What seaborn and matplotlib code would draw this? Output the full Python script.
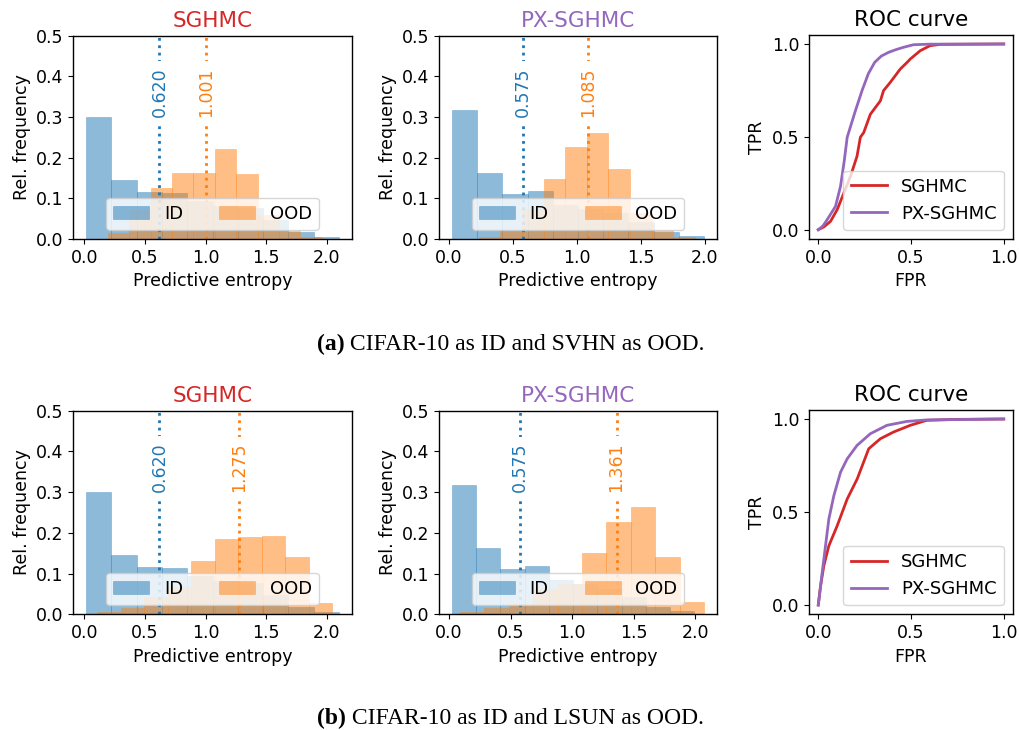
import numpy as np
import pandas as pd
import matplotlib
matplotlib.use("Agg")
import matplotlib.pyplot as plt
from matplotlib.colors import to_rgba
import seaborn as sns

# ---------------- data ----------------
# predictive-entropy histograms: value range covered by the 10 bins + relative frequency per bin
id_sghmc_range = [0.015, 2.100]
id_sghmc_freq = [0.301, 0.145, 0.116, 0.114, 0.094, 0.082, 0.077, 0.047, 0.018, 0.006]
id_px_range = [0.023, 1.993]
id_px_freq = [0.318, 0.163, 0.111, 0.118, 0.084, 0.075, 0.063, 0.043, 0.018, 0.007]

svhn_sghmc_range = [0.196, 1.958]
svhn_sghmc_freq = [0.014, 0.071, 0.125, 0.162, 0.162, 0.222, 0.160, 0.058, 0.020, 0.006]
svhn_px_range = [0.232, 1.922]
svhn_px_freq = [0.005, 0.020, 0.075, 0.148, 0.227, 0.261, 0.172, 0.065, 0.021, 0.006]

lsun_sghmc_range = [0.109, 2.046]
lsun_sghmc_freq = [0.005, 0.015, 0.043, 0.066, 0.132, 0.186, 0.190, 0.193, 0.140, 0.028]
lsun_px_range = [0.087, 2.072]
lsun_px_freq = [0.006, 0.016, 0.025, 0.062, 0.075, 0.151, 0.227, 0.264, 0.141, 0.030]

# mean predictive entropies
mean_id_sghmc = 0.620
mean_id_px = 0.575
mean_svhn_sghmc = 1.001
mean_svhn_px = 1.085
mean_lsun_sghmc = 1.275
mean_lsun_px = 1.361

# ROC curves (FPR, TPR)
roc_svhn_sghmc_fpr = [0.0, 0.030, 0.066, 0.102, 0.138, 0.174, 0.209, 0.227, 0.245, 0.281, 0.335, 0.352, 0.388, 0.442, 0.478, 0.496, 0.550, 0.603, 0.657, 1.0]
roc_svhn_sghmc_tpr = [0.0, 0.015, 0.045, 0.108, 0.198, 0.288, 0.396, 0.498, 0.523, 0.622, 0.694, 0.749, 0.793, 0.865, 0.900, 0.919, 0.964, 0.991, 0.998, 1.0]
roc_svhn_px_fpr = [0.0, 0.025, 0.048, 0.093, 0.120, 0.140, 0.156, 0.200, 0.236, 0.270, 0.304, 0.340, 0.379, 0.420, 0.459, 0.513, 0.600, 1.0]
roc_svhn_px_tpr = [0.0, 0.020, 0.054, 0.126, 0.234, 0.370, 0.498, 0.640, 0.749, 0.840, 0.901, 0.935, 0.955, 0.970, 0.982, 0.996, 0.999, 1.0]
roc_lsun_sghmc_fpr = [0.0, 0.0125, 0.030, 0.057, 0.102, 0.156, 0.210, 0.272, 0.335, 0.406, 0.496, 0.585, 0.746, 1.0]
roc_lsun_sghmc_tpr = [0.0, 0.103, 0.211, 0.318, 0.426, 0.570, 0.678, 0.840, 0.894, 0.930, 0.966, 0.993, 0.998, 1.0]
roc_lsun_px_fpr = [0.0, 0.021, 0.039, 0.057, 0.084, 0.120, 0.156, 0.209, 0.281, 0.370, 0.478, 0.585, 1.0]
roc_lsun_px_tpr = [0.0, 0.174, 0.318, 0.462, 0.588, 0.714, 0.786, 0.858, 0.921, 0.966, 0.987, 0.995, 1.0]

hist_titles = ["SGHMC", "PX-SGHMC"]
roc_labels = ["SGHMC", "PX-SGHMC"]
captions = [("(a)", " CIFAR-10 as ID and SVHN as OOD."),
            ("(b)", " CIFAR-10 as ID and LSUN as OOD.")]

# ---------------- style ----------------
FS = 12.5
plt.rcParams.update({
    "font.size": FS,
    "axes.titlesize": 15.5,
    "axes.labelsize": FS,
    "xtick.labelsize": FS,
    "ytick.labelsize": FS,
    "legend.fontsize": 13,
    "axes.linewidth": 1.0,
})
plt.rcParams["font.family"] = ["DejaVu Sans"]

C_ID = "#1f77b4"
C_OOD = "#ff7f0e"
C_SG = "#d62728"
C_PX = "#9467bd"

W, H = 1019, 730
fig = plt.figure(figsize=(W / 100, H / 100), dpi=100)


def px_axes(l, t, r, b):
    return fig.add_axes([l / W, 1 - b / H, (r - l) / W, (b - t) / H])


def hist_panel(ax, id_range, id_freq, ood_range, ood_freq, m_id, m_ood, title, tcolor):
    for rng, freq, col, lab in [(id_range, id_freq, C_ID, "ID"), (ood_range, ood_freq, C_OOD, "OOD")]:
        nb = len(freq)
        step = (rng[1] - rng[0]) / nb
        centers = [rng[0] + step * (k + 0.5) for k in range(nb)]
        df = pd.DataFrame({"entropy": centers, "w": freq})
        sns.histplot(data=df, x="entropy", weights="w", bins=nb, binrange=(rng[0], rng[1]),
                     color=col, alpha=0.5, edgecolor=to_rgba(col, 0.35), linewidth=0.6,
                     label=lab, ax=ax, stat="count")
    ax.set_ylim(0, 0.5)
    ax.set_yticks([0.0, 0.1, 0.2, 0.3, 0.4, 0.5])
    ax.set_xticks([0.0, 0.5, 1.0, 1.5, 2.0])
    for m, col in [(m_id, C_ID), (m_ood, C_OOD)]:
        ax.axvline(m, color=col, ls=":", lw=2)
        ax.text(m, 0.3, f"{m:.3f}", rotation=90, ha="center", va="bottom", color=col,
                fontsize=FS, bbox=dict(boxstyle="square,pad=0.35", facecolor="white", edgecolor="none"))
    ax.set_title(title, color=tcolor)
    ax.set_xlabel("Predictive entropy")
    ax.set_ylabel("Rel. frequency")
    ax.legend(loc="lower center", ncol=2)


def roc_panel(ax, f1, t1, f2, t2):
    sns.lineplot(x=f1, y=t1, color=C_SG, lw=2, label=roc_labels[0], ax=ax, sort=False, estimator=None)
    sns.lineplot(x=f2, y=t2, color=C_PX, lw=2, label=roc_labels[1], ax=ax, sort=False, estimator=None)
    ax.set_xticks([0.0, 0.5, 1.0])
    ax.set_yticks([0.0, 0.5, 1.0])
    ax.set_title("ROC curve")
    ax.set_xlabel("FPR")
    ax.set_ylabel("TPR")
    ax.legend(loc="lower right")


rows = [
    dict(top=35.7, bot=239.0, ood=(svhn_sghmc_range, svhn_sghmc_freq, svhn_px_range, svhn_px_freq),
         means=(mean_svhn_sghmc, mean_svhn_px),
         roc=(roc_svhn_sghmc_fpr, roc_svhn_sghmc_tpr, roc_svhn_px_fpr, roc_svhn_px_tpr), cap_y=344),
    dict(top=410.7, bot=614.3, ood=(lsun_sghmc_range, lsun_sghmc_freq, lsun_px_range, lsun_px_freq),
         means=(mean_lsun_sghmc, mean_lsun_px),
         roc=(roc_lsun_sghmc_fpr, roc_lsun_sghmc_tpr, roc_lsun_px_fpr, roc_lsun_px_tpr), cap_y=718),
]

cap_texts = []
for i, r in enumerate(rows):
    a1 = px_axes(73.3, r["top"], 351.7, r["bot"])
    hist_panel(a1, id_sghmc_range, id_sghmc_freq, r["ood"][0], r["ood"][1],
               mean_id_sghmc, r["means"][0], hist_titles[0], C_SG)
    a2 = px_axes(439.3, r["top"], 716.7, r["bot"])
    hist_panel(a2, id_px_range, id_px_freq, r["ood"][2], r["ood"][3],
               mean_id_px, r["means"][1], hist_titles[1], C_PX)
    a3 = px_axes(809.0, r["top"] - 1.0, 1013.0, r["bot"])
    roc_panel(a3, *r["roc"])
    y = 1 - r["cap_y"] / H
    tb = fig.text(0, y, captions[i][0], family=["Liberation Serif", "DejaVu Serif"],
                  weight="bold", fontsize=17, va="center")
    tr = fig.text(0, y, captions[i][1], family=["Liberation Serif", "DejaVu Serif"],
                  fontsize=17, va="center")
    cap_texts.append((tb, tr))

fig.canvas.draw()
rend = fig.canvas.get_renderer()
for tb, tr in cap_texts:
    w1 = tb.get_window_extent(rend).width
    w2 = tr.get_window_extent(rend).width
    x0 = 510.5 - (w1 + w2) / 2
    tb.set_x(x0 / W)
    tr.set_x((x0 + w1) / W)

fig.savefig("out.png", dpi=100)
